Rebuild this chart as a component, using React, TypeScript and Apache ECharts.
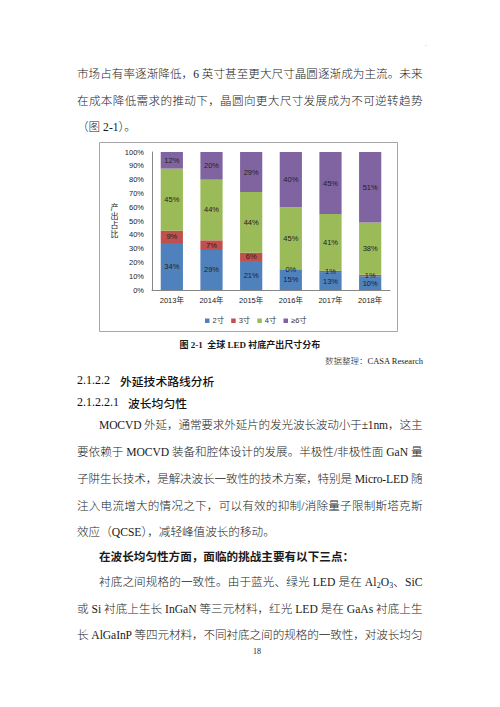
import React, { useEffect, useRef } from "react";
import * as echarts from "echarts";

// ---------- chart data ----------
const years = ["2013年", "2014年", "2015年", "2016年", "2017年", "2018年"];
const seriesNames = ["2寸", "3寸", "4寸", "≥6寸"];
const size2 = [34, 29, 21, 15, 13, 10];
const size3 = [9, 7, 6, 0, 1, 1];
const size4 = [45, 44, 44, 45, 41, 38];
const size6 = [12, 20, 29, 40, 45, 51];
const seriesColors = ["#4F81BD", "#C0504D", "#9BBB59", "#8064A2"];
const yAxisName = "产出占比";

// ---------- page text ----------
type Part = string | { sub: string };
interface Line {
  x: number;
  y: number;
  w?: number;
  parts: Part[];
  weight?: string | number;
  size?: number;
  anchor?: "start" | "middle" | "end";
}

const BODY = 11.6;
const RIGHT = 422.5;

const pageLines: Line[] = [
  { x: 77, y: 74, w: RIGHT - 77, parts: ["市场占有率逐渐降低，6 英寸甚至更大尺寸晶圆逐渐成为主流。未来"] },
  { x: 77, y: 101, w: RIGHT - 77, parts: ["在成本降低需求的推动下，晶圆向更大尺寸发展成为不可逆转趋势"] },
  { x: 77, y: 127, parts: ["（图 2-1）。"] },
  { x: 250, y: 345, parts: ["图 2-1  全球 LED 衬底产出尺寸分布"], weight: "bold", size: 9, anchor: "middle" },
  { x: 423, y: 360.5, parts: ["数据整理：CASA Research"], size: 8.5, anchor: "end" },
  { x: 99, y: 425, w: RIGHT - 99, parts: ["MOCVD 外延，通常要求外延片的发光波长波动小于±1nm，这主"] },
  { x: 77, y: 452, w: RIGHT - 77, parts: ["要依赖于 MOCVD 装备和腔体设计的发展。半极性/非极性面 GaN 量"] },
  { x: 77, y: 479, w: RIGHT - 77, parts: ["子阱生长技术，是解决波长一致性的技术方案，特别是 Micro-LED 随"] },
  { x: 77, y: 505.5, w: RIGHT - 77, parts: ["注入电流增大的情况之下，可以有效的抑制/消除量子限制斯塔克斯"] },
  { x: 77, y: 532, parts: ["效应（QCSE），减轻峰值波长的移动。"] },
  { x: 99, y: 556.5, parts: ["在波长均匀性方面，面临的挑战主要有以下三点："], weight: "bold" },
  {
    x: 99,
    y: 582,
    w: RIGHT - 99,
    parts: ["衬底之间规格的一致性。由于蓝光、绿光 LED 是在 Al", { sub: "2" }, "O", { sub: "3" }, "、SiC"],
  },
  { x: 77, y: 609, w: RIGHT - 77, parts: ["或 Si 衬底上生长 InGaN 等三元材料，红光 LED 是在 GaAs 衬底上生"] },
  { x: 77, y: 635, w: RIGHT - 77, parts: ["长 AlGaInP 等四元材料，不同衬底之间的规格的一致性，对波长均匀"] },
  { x: 257, y: 651, parts: ["18"], size: 8, anchor: "middle" },
];

const headings = [
  { num: "2.1.2.2", title: "外延技术路线分析", y: 380, titleX: 120 },
  { num: "2.1.2.2.1", title: "波长均匀性", y: 402, titleX: 128 },
];

const SERIF = "'Liberation Serif', 'Noto Sans CJK SC', serif";
const SANS = "'Liberation Sans', 'Noto Sans CJK SC', sans-serif";

function renderParts(parts: Part[], size: number) {
  const out: React.ReactNode[] = [];
  let shifted = false;
  parts.forEach((p, i) => {
    if (typeof p === "string") {
      out.push(
        <tspan key={i} dy={shifted ? -2.5 : undefined}>
          {p}
        </tspan>
      );
      shifted = false;
    } else {
      out.push(
        <tspan key={i} fontSize={size * 0.68} dy={shifted ? 0 : 2.5}>
          {p.sub}
        </tspan>
      );
      shifted = true;
    }
  });
  return out;
}

function PageText() {
  return (
    <svg
      width={500}
      height={707}
      style={{ position: "absolute", left: 0, top: 0 }}
      xmlns="http://www.w3.org/2000/svg"
    >
      <rect x={0} y={0} width={500} height={707} fill="#ffffff" />
      <text x={425} y={46} fontSize={6} fill="#999" fontFamily={SERIF}>
        .
      </text>
      {pageLines.map((l, i) => {
        const size = l.size ?? BODY;
        return (
          <text
            key={i}
            x={l.x}
            y={l.y}
            fontSize={size}
            fontFamily={SERIF}
            fontWeight={l.weight ?? 300}
            fill="#1a1a1a"
            dominantBaseline="central"
            textAnchor={l.anchor ?? "start"}
            textLength={l.w}
            lengthAdjust={l.w ? "spacing" : undefined}
            style={{ whiteSpace: "pre" }}
          >
            {renderParts(l.parts, size)}
          </text>
        );
      })}
      {headings.map((h, i) => (
        <g key={"h" + i}>
          <text x={77} y={h.y} fontSize={12} fontFamily={SERIF} fill="#111" dominantBaseline="central">
            {h.num}
          </text>
          <text
            x={h.titleX}
            y={h.y}
            fontSize={11.8}
            fontFamily="'Noto Sans CJK SC', sans-serif"
            fontWeight={500}
            fill="#111"
            dominantBaseline="central"
          >
            {h.title}
          </text>
        </g>
      ))}
    </svg>
  );
}

function Chart() {
  const ref = useRef<HTMLDivElement>(null);
  useEffect(() => {
    if (!ref.current) return;
    const chart = echarts.init(ref.current, null, { renderer: "svg" });
    const values = [size2, size3, size4, size6];
    const labelStyle = {
      show: true,
      position: "inside" as const,
      formatter: "{c}%",
      fontSize: 7.5,
      color: "#222",
      fontFamily: SANS,
    };
    chart.setOption({
      animation: false,
      backgroundColor: "#ffffff",
      color: seriesColors,
      graphic: [
        {
          type: "rect",
          shape: { x: 0.5, y: 0.5, width: 298, height: 189 },
          style: { fill: "none", stroke: "#a6a6a6", lineWidth: 1 },
          silent: true,
        },
        {
          type: "text",
          x: 15.5,
          y: 79,
          silent: true,
          style: {
            text: yAxisName.split("").join("\n"),
            fontSize: 8,
            lineHeight: 9.3,
            fill: "#222",
            fontFamily: SANS,
            align: "center",
            verticalAlign: "middle",
          },
        },
      ],
      grid: { left: 53, right: 8, top: 10, bottom: 42 },
      legend: {
        data: seriesNames,
        left: 101,
        top: 170,
        icon: "rect",
        itemWidth: 4.5,
        itemHeight: 4.5,
        itemGap: 7,
        textStyle: { fontSize: 7.5, color: "#333", fontFamily: SANS, padding: [0, 0, 0, -2] },
      },
      xAxis: {
        type: "category",
        data: years,
        axisLine: { show: true, lineStyle: { color: "#868686", width: 1 } },
        axisTick: { show: false },
        axisLabel: { fontSize: 7.5, color: "#222", margin: 7, fontFamily: SANS },
      },
      yAxis: {
        type: "value",
        min: 0,
        max: 100,
        interval: 10,
        axisLine: { show: true, lineStyle: { color: "#868686", width: 1 } },
        axisTick: { show: false },
        splitLine: { show: false },
        axisLabel: { fontSize: 7.5, color: "#222", margin: 8, formatter: "{value}%", fontFamily: SANS },
      },
      series: seriesNames.map((name, i) => ({
        name,
        type: "bar",
        stack: "total",
        barWidth: "56%",
        data: values[i],
        label: labelStyle,
        itemStyle: { color: seriesColors[i] },
      })),
    });
    return () => chart.dispose();
  }, []);
  return (
    <div
      ref={ref}
      style={{ position: "absolute", left: 99, top: 142, width: 299, height: 190 }}
    />
  );
}

export default function App() {
  return (
    <div style={{ position: "absolute", left: 0, top: 0, width: 500, height: 707, background: "#fff", overflow: "hidden" }}>
      <PageText />
      <Chart />
    </div>
  );
}
